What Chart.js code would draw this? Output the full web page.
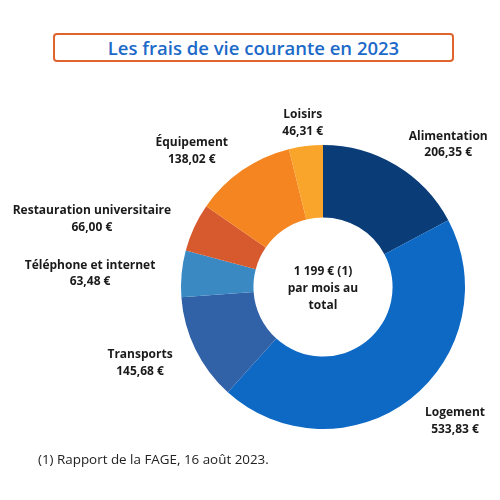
<!DOCTYPE html>
<html>
<head>
<meta charset="utf-8">
<script src="https://cdn.jsdelivr.net/npm/chart.js@4"></script>
<style>
  html, body { margin: 0; padding: 0; background: #fff; }
  #wrap { position: relative; width: 500px; height: 500px; }
  #title {
    position: absolute; left: 53px; top: 33px; width: 397px; height: 25px;
    border: 2px solid #e0642e; border-radius: 4px;
    font: 600 18.5px "Open Sans", sans-serif; color: #1b6ac9;
    text-align: center; line-height: 25px;
  }
  #note {
    position: absolute; left: 38px; top: 450px;
    font: 13.4px "Open Sans", sans-serif; color: #222;
  }
  canvas { position: absolute; left: 0; top: 0; }
</style>
</head>
<body>
<div id="wrap">
  <div id="title">Les frais de vie courante en 2023</div>
  <canvas id="chart" width="500" height="500"></canvas>
  <div id="note">(1) Rapport de la FAGE, 16 août 2023.</div>
</div>
<script>
// data
const categories = ['Alimentation', 'Logement', 'Transports', 'Téléphone et internet',
                    'Restauration universitaire', 'Équipement', 'Loisirs'];
const amounts = [206.35, 533.83, 145.68, 63.48, 66.00, 138.02, 46.31];
const valueLabels = ['206,35 €', '533,83 €', '145,68 €', '63,48 €', '66,00 €', '138,02 €', '46,31 €'];
const centerLines = ['1 199 € (1)', 'par mois au', 'total'];
const colors = ['#0a3d78', '#0e69c5', '#3161a6', '#3a89c3', '#d65a2e', '#f58521', '#f9a42a'];

// label placement: angle shift (deg) from slice middle, distance as multiple of outer radius
const labelShift = [10, -7, 4, -1.6, -8, -9, 0];
const labelDist = [1.345, 1.315, 1.39, 1.644, 1.70, 1.34, 1.178];

const outsideLabels = {
    id: 'outsideLabels',
    afterDraw(chart) {
        const ctx = chart.ctx;
        const meta = chart.getDatasetMeta(0);
        ctx.save();
        ctx.font = 'bold 12px "Open Sans", sans-serif';
        ctx.fillStyle = '#1a1a1a';
        ctx.textAlign = 'center';
        ctx.textBaseline = 'middle';
        const lh = 16.5;
        const dy = 2; // Open Sans sits a bit high on 'middle'
        meta.data.forEach((arc, i) => {
            const p = arc.getProps(['x', 'y', 'startAngle', 'endAngle', 'outerRadius'], true);
            const mid = (p.startAngle + p.endAngle) / 2 + labelShift[i] * Math.PI / 180;
            const r = p.outerRadius * labelDist[i];
            const cx = p.x + Math.cos(mid) * r;
            const cy = p.y + Math.sin(mid) * r + dy;
            ctx.fillText(categories[i], cx, cy - lh / 2);
            ctx.fillText(valueLabels[i], cx, cy + lh / 2);
        });
        // centre text
        const a = meta.data[0];
        centerLines.forEach((t, k) => {
            ctx.fillText(t, a.x, a.y + dy + (k - 1) * 17);
        });
        ctx.restore();
    }
};

new Chart(document.getElementById('chart'), {
    type: 'doughnut',
    data: {
        labels: categories,
        datasets: [{
            data: amounts,
            backgroundColor: colors,
            borderWidth: 0
        }]
    },
    options: {
        responsive: false,
        animation: false,
        cutout: '49%',
        layout: { padding: { left: 181, top: 145, right: 35, bottom: 71 } },
        plugins: {
            legend: { display: false },
            tooltip: { enabled: false }
        }
    },
    plugins: [outsideLabels]
});
</script>
</body>
</html>
